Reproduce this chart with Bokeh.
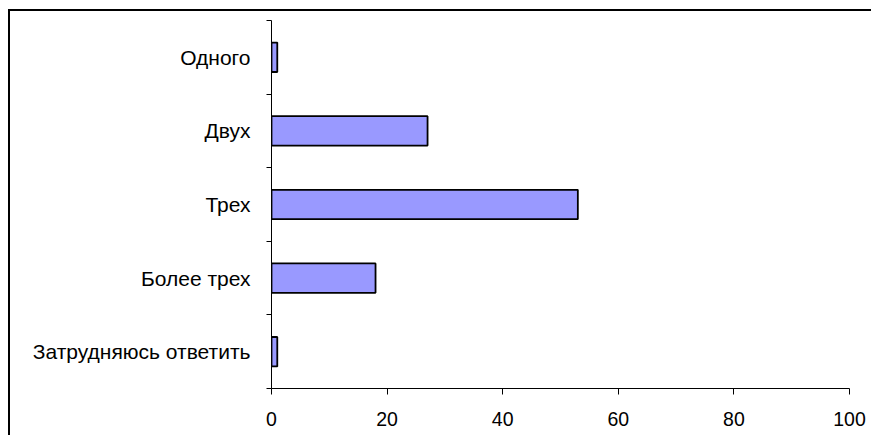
from bokeh.plotting import figure
from bokeh.models import Range1d, FixedTicker, ColumnDataSource
from bokeh.embed import file_html
from bokeh.resources import INLINE

categories = ["Одного", "Двух", "Трех", "Более трех", "Затрудняюсь ответить"]
values = [1, 27, 53, 18, 1]
x_ticks = [0, 20, 40, 60, 80, 100]

n = len(categories)
ypos = [n - 1 - i for i in range(n)]
boundaries = [i - 0.5 for i in range(n + 1)]

src = ColumnDataSource(dict(y=ypos, v=values, cat=categories))

p = figure(width=863, height=426, output_backend="svg", toolbar_location=None,
           x_range=Range1d(0, 100), y_range=Range1d(-0.5, n - 0.5),
           min_border_left=261, min_border_right=24, min_border_top=9, min_border_bottom=49)
p.styles = {"border-left": "2px solid black", "border-top": "2px solid black",
            "margin-left": "8px", "margin-top": "9px"}

p.hbar(y="y", right="v", left=0, height=0.4, source=src,
       fill_color="#9999FF", line_color="black", line_width=1.8)

p.xgrid.visible = False
p.ygrid.visible = False
p.outline_line_color = None
p.background_fill_color = "white"
p.border_fill_color = "white"

xa = p.xaxis[0]
xa.ticker = FixedTicker(ticks=x_ticks)
xa.major_tick_out = 6
xa.major_tick_in = 0
xa.minor_tick_out = 0
xa.minor_tick_in = 0
xa.axis_line_color = "black"
xa.major_tick_line_color = "black"
xa.major_label_text_font = "Liberation Sans"
xa.major_label_text_font_size = "19.5px"
xa.major_label_text_color = "black"
xa.major_label_standoff = 17

ya = p.yaxis[0]
ya.ticker = FixedTicker(ticks=ypos, minor_ticks=boundaries)
ya.major_label_overrides = {y: c for y, c in zip(ypos, categories)}
ya.major_tick_out = 0
ya.major_tick_in = 0
ya.minor_tick_out = 5
ya.minor_tick_in = 0
ya.minor_tick_line_color = "black"
ya.axis_line_color = "black"
ya.major_label_text_font = "Liberation Sans"
ya.major_label_text_font_size = "21px"
ya.major_label_text_color = "black"
ya.major_label_standoff = 16

open("out.html", "w").write(file_html(p, INLINE))
